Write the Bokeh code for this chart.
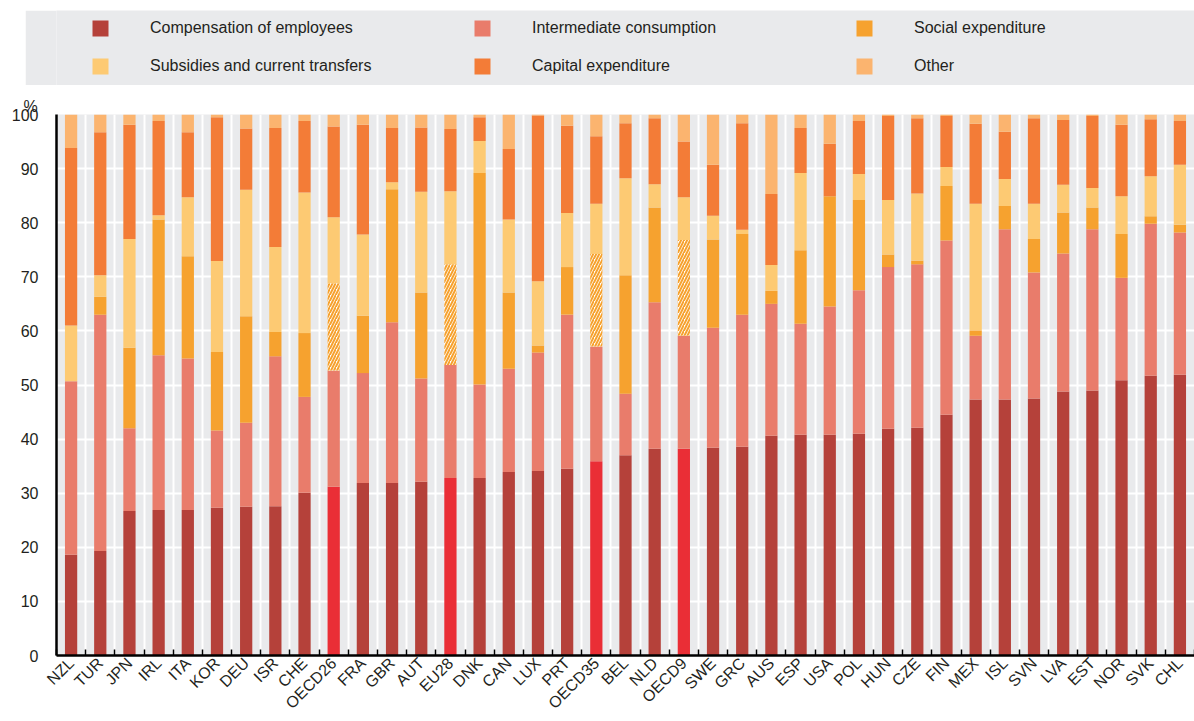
import numpy as np
from bokeh.plotting import figure
from bokeh.models import ColumnDataSource, FixedTicker, Legend, LegendItem, Range1d, Spacer, Title
from bokeh.layouts import column, row
from bokeh.embed import file_html
from bokeh.resources import INLINE

countries = ["NZL", "TUR", "JPN", "IRL", "ITA", "KOR", "DEU", "ISR", "CHE", "OECD26",
             "FRA", "GBR", "AUT", "EU28", "DNK", "CAN", "LUX", "PRT", "OECD35", "BEL",
             "NLD", "OECD9", "SWE", "GRC", "AUS", "ESP", "USA", "POL", "HUN", "CZE",
             "FIN", "MEX", "ISL", "SVN", "LVA", "EST", "NOR", "SVK", "CHL"]
aggregates = ["OECD26", "EU28", "OECD35", "OECD9"]

compensation = [18.6, 19.3, 26.7, 26.9, 26.9, 27.3, 27.5, 27.6, 30.1, 31.2,
                31.9, 31.9, 32.1, 32.8, 32.8, 33.9, 34.1, 34.5, 35.9, 37.0,
                38.2, 38.2, 38.4, 38.6, 40.6, 40.8, 40.8, 41.0, 41.9, 42.1,
                44.5, 47.3, 47.3, 47.5, 48.8, 49.0, 50.9, 51.7, 51.9]
intermediate = [32.1, 43.7, 15.3, 28.6, 28.0, 14.3, 15.5, 27.7, 17.7, 21.5,
                20.3, 29.7, 19.1, 20.9, 17.3, 19.1, 21.9, 28.5, 21.2, 11.4,
                27.1, 20.9, 22.2, 24.4, 24.4, 20.5, 23.7, 26.5, 29.9, 30.2,
                32.2, 11.8, 31.5, 23.3, 25.5, 29.8, 18.9, 28.1, 26.3]
social = [0.0, 3.3, 14.9, 25.1, 18.9, 14.5, 19.7, 4.5, 11.8, 0.0,
          10.6, 24.6, 15.9, 0.0, 39.1, 14.1, 1.3, 8.8, 0.0, 21.9,
          17.5, 0.0, 16.3, 14.9, 2.4, 13.6, 20.4, 16.7, 2.3, 0.7,
          10.1, 1.0, 4.3, 6.2, 7.6, 4.0, 8.1, 1.4, 1.4]
social_hatched = [0.0, 0.0, 0.0, 0.0, 0.0, 0.0, 0.0, 0.0, 0.0, 16.1,
                  0.0, 0.0, 0.0, 18.6, 0.0, 0.0, 0.0, 0.0, 17.1, 0.0,
                  0.0, 17.7, 0.0, 0.0, 0.0, 0.0, 0.0, 0.0, 0.0, 0.0,
                  0.0, 0.0, 0.0, 0.0, 0.0, 0.0, 0.0, 0.0, 0.0]
subsidies = [10.3, 4.0, 20.1, 0.8, 10.9, 16.8, 23.4, 15.7, 26.0, 12.2,
             15.0, 1.3, 18.6, 13.5, 5.9, 13.5, 11.9, 10.0, 9.3, 17.9,
             4.3, 7.9, 4.4, 0.8, 4.8, 14.3, 0.0, 4.8, 10.1, 12.4,
             3.5, 23.4, 5.0, 6.5, 5.1, 3.6, 7.0, 7.4, 11.1]
capital = [32.8, 26.4, 21.1, 17.4, 12.0, 26.6, 11.3, 22.0, 13.2, 16.8,
           20.3, 10.0, 11.9, 11.5, 4.4, 13.0, 30.6, 16.1, 12.5, 10.2,
           12.2, 10.3, 9.4, 19.7, 13.1, 8.3, 9.7, 9.8, 15.5, 13.9,
           9.4, 14.8, 8.7, 15.8, 12.0, 13.3, 13.2, 10.5, 8.1]
other = [6.2, 3.3, 1.9, 1.2, 3.3, 0.5, 2.6, 2.5, 1.2, 2.2,
         1.9, 2.5, 2.4, 2.7, 0.5, 6.4, 0.2, 2.1, 4.0, 1.6,
         0.7, 5.0, 9.3, 1.6, 14.7, 2.5, 5.4, 1.2, 0.3, 0.7,
         0.3, 1.7, 3.2, 0.7, 1.0, 0.3, 1.9, 0.9, 1.2]

legend_labels = ["Compensation of employees", "Intermediate consumption", "Social expenditure",
                 "Subsidies and current transfers", "Capital expenditure", "Other"]
y_ticks = [0, 10, 20, 30, 40, 50, 60, 70, 80, 90, 100]
unit_label = "%"

COMP = "#B5413A"
HIGHLIGHT = "#EA2E36"
INTER = "#E97C6B"
SOCIAL = "#F6A22F"
SUBS = "#FDCA73"
CAPITAL = "#F37C37"
OTHER = "#FBB46F"
BG = "#E9EAEC"
TEXT = "#231F20"
FONT = "Liberation Sans"

n = len(countries)
xs = np.arange(n)
layers = [("comp", compensation), ("inter", intermediate), ("social", social),
          ("social_h", social_hatched), ("subs", subsidies), ("capital", capital), ("other", other)]
data = dict(x=xs, comp_color=[HIGHLIGHT if c in aggregates else COMP for c in countries])
base = np.zeros(n)
for name, vals in layers:
    v = np.array(vals, dtype=float)
    data[name + "_b"] = base.copy()
    data[name + "_t"] = base + v
    base = base + v
src = ColumnDataSource(data)

p = figure(width=1194, height=635, x_range=Range1d(-0.5, n - 0.5), y_range=Range1d(0, 100),
           output_backend="svg", toolbar_location=None,
           min_border_left=56, min_border_right=0, min_border_top=29, min_border_bottom=65,
           background_fill_color=BG, border_fill_color="white", outline_line_color=None)
p.title = Title(text=unit_label, align="left", offset=-33, standoff=0,
                text_font=FONT, text_font_size="16px", text_font_style="normal", text_color=TEXT)

W = 0.42
p.vbar(x="x", bottom="comp_b", top="comp_t", width=W, source=src, fill_color="comp_color", line_color=None)
p.vbar(x="x", bottom="inter_b", top="inter_t", width=W, source=src, fill_color=INTER, line_color=None)
p.vbar(x="x", bottom="social_b", top="social_t", width=W, source=src, fill_color=SOCIAL, line_color=None)
p.vbar(x="x", bottom="social_h_b", top="social_h_t", width=W, source=src, fill_color="white",
       line_color=None, hatch_pattern="/", hatch_color=SOCIAL, hatch_scale=6, hatch_weight=2)
p.vbar(x="x", bottom="subs_b", top="subs_t", width=W, source=src, fill_color=SUBS, line_color=None)
p.vbar(x="x", bottom="capital_b", top="capital_t", width=W, source=src, fill_color=CAPITAL, line_color=None)
p.vbar(x="x", bottom="other_b", top="other_t", width=W, source=src, fill_color=OTHER, line_color=None)

boundaries = [i + 0.5 for i in range(-1, n)]
p.xaxis.ticker = FixedTicker(ticks=list(xs), minor_ticks=boundaries)
p.xaxis.major_label_overrides = {int(i): c for i, c in enumerate(countries)}
p.xaxis.major_label_orientation = np.pi / 4
p.xaxis.major_tick_in = 0
p.xaxis.major_tick_out = 0
p.xaxis.minor_tick_in = 6
p.xaxis.minor_tick_out = 0
p.xaxis.minor_tick_line_color = "black"
p.xaxis.minor_tick_line_width = 1.5
p.xaxis.major_label_standoff = 5
p.xaxis.major_label_text_font = FONT
p.xaxis.major_label_text_font_size = "16px"
p.xaxis.major_label_text_color = TEXT

p.yaxis.ticker = FixedTicker(ticks=y_ticks)
p.yaxis.major_tick_in = 0
p.yaxis.major_tick_out = 0
p.yaxis.minor_tick_line_color = None
p.yaxis.major_label_standoff = 18
p.yaxis.major_label_text_font = FONT
p.yaxis.major_label_text_font_size = "16px"
p.yaxis.major_label_text_color = TEXT

for ax in (p.xaxis, p.yaxis):
    ax.axis_line_color = "black"
    ax.axis_line_width = 2.5

p.xgrid.ticker = FixedTicker(ticks=boundaries)
p.xgrid.grid_line_color = "white"
p.xgrid.grid_line_width = 2
p.ygrid.ticker = FixedTicker(ticks=y_ticks)
p.ygrid.grid_line_color = "white"
p.ygrid.grid_line_width = 2
p.xgrid.level = "underlay"
p.ygrid.level = "underlay"

# legend panel
lf = figure(width=1169, height=75, x_range=Range1d(0, 1), y_range=Range1d(0, 1),
            output_backend="svg", toolbar_location=None, x_axis_type=None, y_axis_type=None,
            min_border_left=31, min_border_right=0, min_border_top=0, min_border_bottom=0,
            background_fill_color=BG, border_fill_color=BG, outline_line_color=None)
lf.grid.visible = False
colors = [COMP, INTER, SOCIAL, SUBS, CAPITAL, OTHER]
items = []
for lab, col in zip(legend_labels, colors):
    r = lf.vbar(x=[5], top=[1], width=0.5, fill_color=col, line_color=None)
    items.append(LegendItem(label=lab, renderers=[r]))
leg = Legend(items=items, location=(34, 9), orientation="horizontal", ncols=3,
             glyph_width=20, glyph_height=20, label_standoff=40, label_width=304,
             label_height=20, spacing=18, padding=0, margin=0,
             background_fill_alpha=0, border_line_alpha=0,
             label_text_font=FONT, label_text_font_size="16px",
             label_text_color=TEXT, label_text_baseline="middle")
lf.add_layout(leg)

layout = column(Spacer(width=1194, height=10), row(Spacer(width=25, height=75), lf, spacing=0), p, spacing=0)
open("out.html", "w").write(file_html(layout, INLINE))
